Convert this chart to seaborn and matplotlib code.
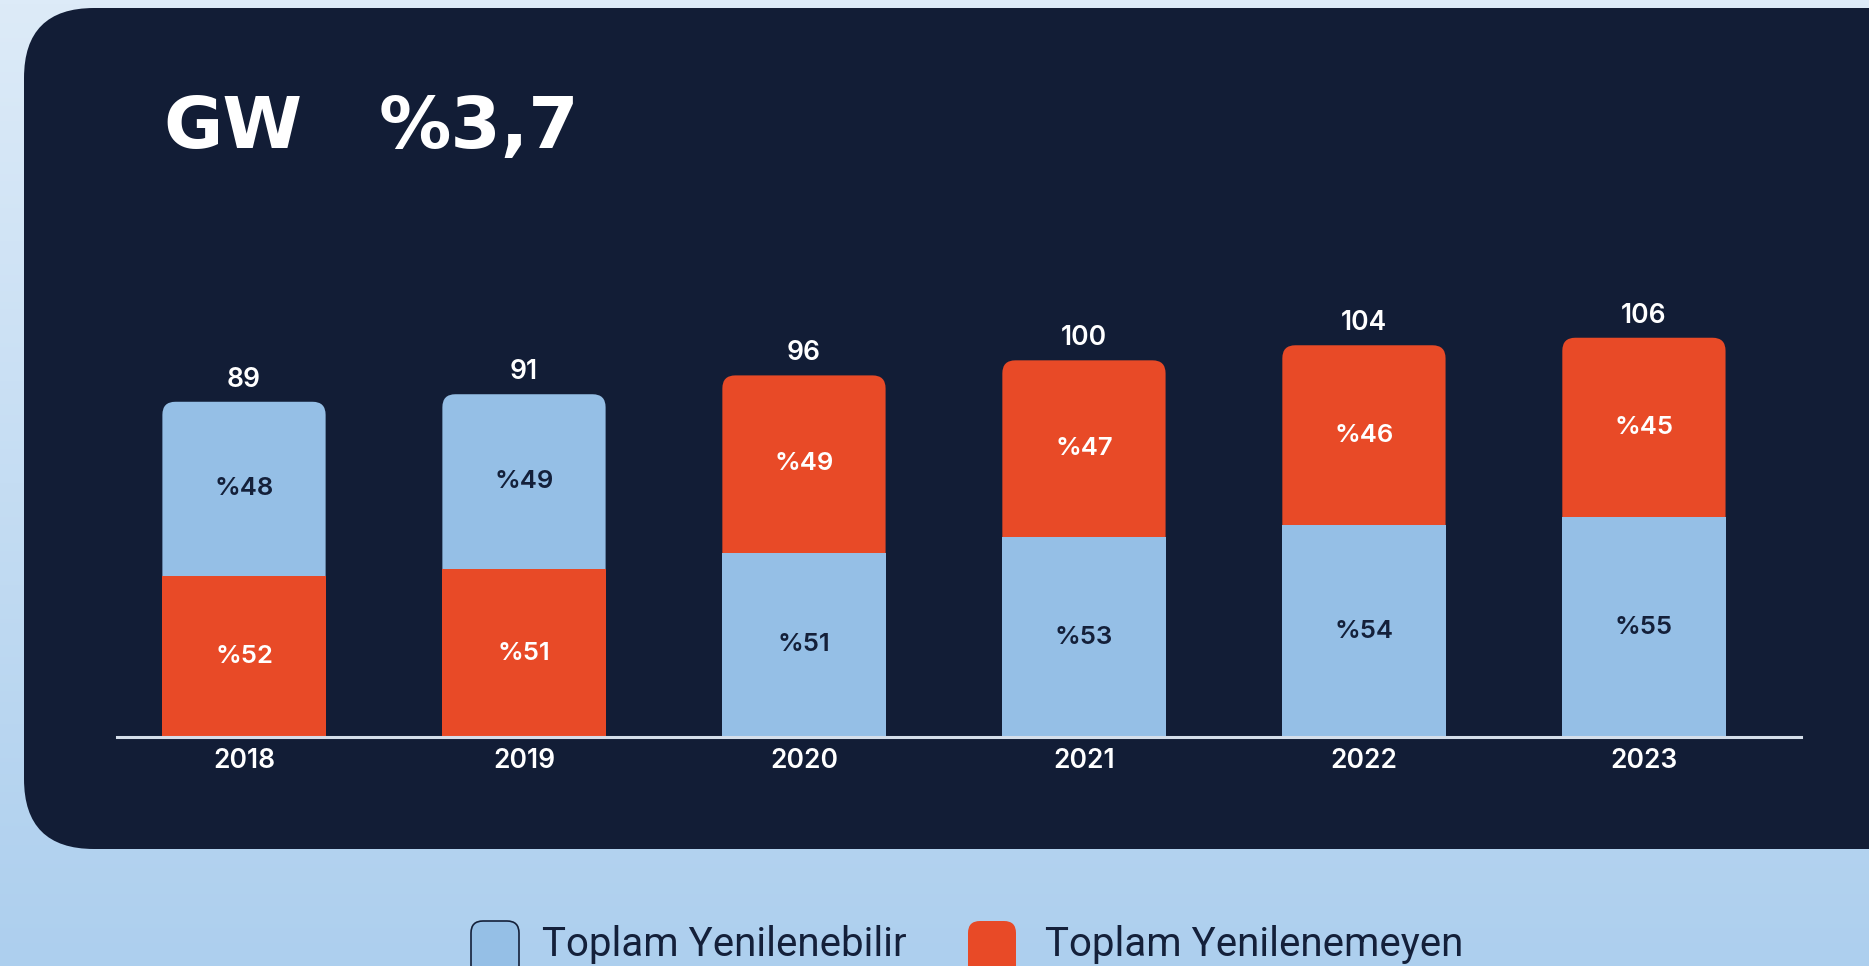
import numpy as np
import matplotlib.pyplot as plt
import seaborn as sns
from matplotlib.patches import FancyBboxPatch

sns.set_style('white')
plt.rcParams['font.family'] = ['Inter', 'DejaVu Sans']

years = ['2018', '2019', '2020', '2021', '2022', '2023']
totals = [89, 91, 96, 100, 104, 106]
renewable_pct = [48, 49, 51, 53, 54, 55]
fossil_pct = [52, 51, 49, 47, 46, 45]
# which series sits at the bottom of each bar in the picture
bottom_is_renewable = [False, False, True, True, True, True]
# share of the lower block as it is drawn in the picture
bottom_share = [48, 49, 51, 53, 54, 55]

legend_labels = ['Toplam Yenilenebilir', 'Toplam Yenilenemeyen']

BLUE = '#95BFE6'
RED = '#E84A27'
PANEL = '#121D36'
INK = '#14203A'

W, H = 1869, 966
fig = plt.figure(figsize=(W / 100, H / 100), dpi=100)

# background + dark panel, drawn in pixel coordinates
bg = fig.add_axes([0, 0, 1, 1])
bg.set_xlim(0, W)
bg.set_ylim(H, 0)
bg.axis('off')
grad = np.linspace(0, 1, 256).reshape(-1, 1)
cmap = sns.blend_palette(['#DDEBF8', '#ADCFEE'], as_cmap=True)
bg.imshow(grad, extent=[0, W, H, 0], aspect='auto', cmap=cmap, zorder=0)
bg.add_patch(FancyBboxPatch((24, 8), 1950, 841, boxstyle='round,pad=0,rounding_size=70',
                            facecolor=PANEL, edgecolor='none', zorder=1))

bg.text(163, 148, 'GW', fontsize=52, fontweight='bold', family='DejaVu Sans', color='white', zorder=2)
bg.text(379, 148, '%3,7', fontsize=52, fontweight='bold', family='DejaVu Sans', color='white', zorder=2)

# legend
for x0, tx, col, lab in [(471, 542, BLUE, legend_labels[0]), (968, 1045, RED, legend_labels[1])]:
    bg.add_patch(FancyBboxPatch((x0, 921), 48, 70, boxstyle='round,pad=0,rounding_size=12',
                                facecolor=col, edgecolor=INK if col == BLUE else 'none',
                                lw=1.2, zorder=2))
    bg.text(tx, 956, lab, fontsize=29, family='Roboto', color=INK, zorder=2)

# chart axes
ax = fig.add_axes([117 / W, 229 / H, 1684 / W, 452 / H])
ax.patch.set_alpha(0)
ax.set_xlim(-0.4536, 5.561)
ax.set_ylim(0, 120)

top_colors = [BLUE if b is False else RED for b in bottom_is_renewable]
bottom_colors = [RED if b is False else BLUE for b in bottom_is_renewable]
bottom_h = [t * s / 100 for t, s in zip(totals, bottom_share)]

sns.barplot(x=years, y=totals, hue=years, palette=top_colors, width=0.583,
            saturation=1, legend=False, ax=ax)

# swap plain tops for rounded ones
px_x = ax.transData.transform((1, 0))[0] - ax.transData.transform((0, 0))[0]
px_y = ax.transData.transform((0, 1))[1] - ax.transData.transform((0, 0))[1]
for p in list(ax.patches):
    rb = FancyBboxPatch((p.get_x(), p.get_y()), p.get_width(), p.get_height(),
                        boxstyle='round,pad=0,rounding_size=%f' % (13 / px_x),
                        mutation_aspect=px_x / px_y,
                        facecolor=p.get_facecolor(), edgecolor='none', zorder=2)
    p.remove()
    ax.add_patch(rb)

sns.barplot(x=years, y=bottom_h, hue=years, palette=bottom_colors, width=0.583,
            saturation=1, legend=False, ax=ax)
for p in ax.patches[-len(years):]:
    p.set_zorder(3)
    p.set_edgecolor('none')

ax.set_xlim(-0.4536, 5.561)
ax.set_ylim(0, 120)

for i, t in enumerate(totals):
    ren = bottom_is_renewable[i]
    low_lab = renewable_pct[i] if ren else fossil_pct[i]
    up_lab = fossil_pct[i] if ren else renewable_pct[i]
    low_col = INK if ren else 'white'
    up_col = 'white' if ren else INK
    hb = bottom_h[i]
    ax.text(i, hb / 2, '%' + str(low_lab), ha='center', va='center', color=low_col,
            fontsize=18.5, fontweight='semibold', zorder=5)
    ax.text(i, hb + (t - hb) / 2, '%' + str(up_lab), ha='center', va='center', color=up_col,
            fontsize=18.5, fontweight='semibold', zorder=5)
    ax.annotate(str(t), (i, t), xytext=(0, 16), textcoords='offset points', ha='center',
                va='center', color='white', fontsize=19, fontweight='semibold')

for s in ['top', 'right', 'left']:
    ax.spines[s].set_visible(False)
ax.spines['bottom'].set_color('#D5DEEA')
ax.spines['bottom'].set_linewidth(2.2)
ax.spines['bottom'].set_zorder(6)
ax.set_yticks([])
ax.tick_params(axis='x', length=0, pad=8, labelsize=19, labelcolor='white')
for lab in ax.get_xticklabels():
    lab.set_fontweight('semibold')
ax.set_xlabel('')
ax.set_ylabel('')

fig.savefig('out.png', dpi=100)
